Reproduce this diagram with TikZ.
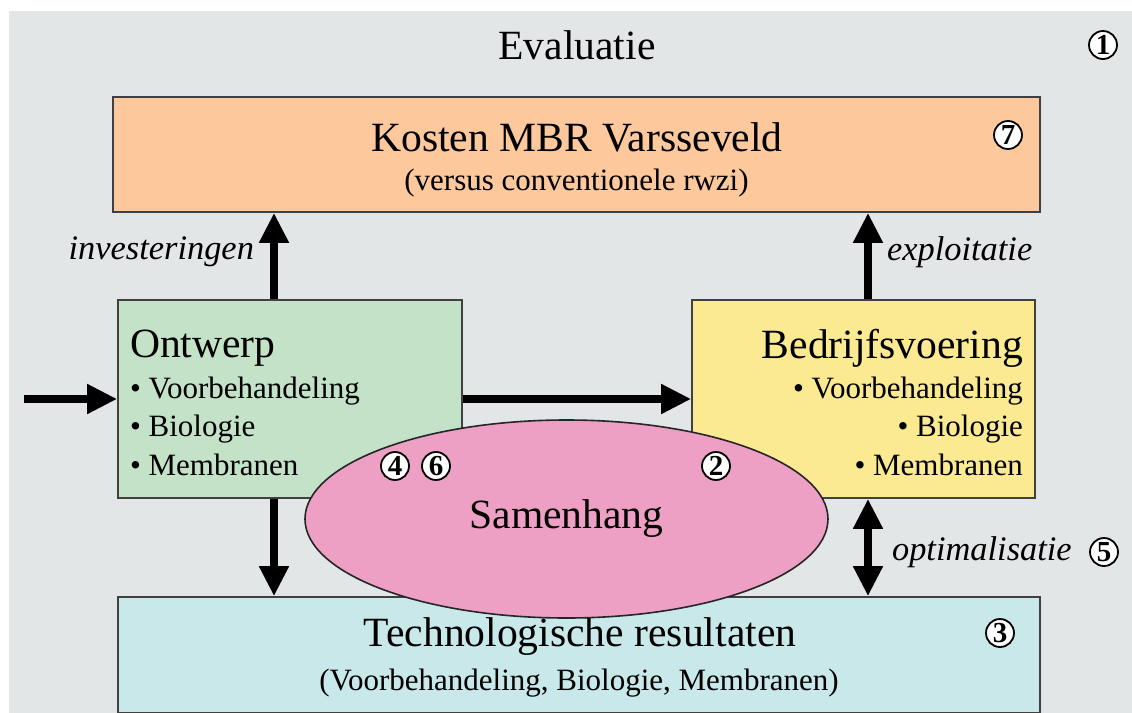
\documentclass[tikz,border=0pt]{standalone}
\usepackage{fontspec}
\setmainfont{Liberation Serif}
\usetikzlibrary{arrows.meta, shapes.geometric, positioning}

\definecolor{bggray}{HTML}{E2E6E6}
\definecolor{kostenfill}{HTML}{FCC89C}
\definecolor{ontwerpfill}{HTML}{C3E2C7}
\definecolor{bedrijffill}{HTML}{FBEA91}
\definecolor{techfill}{HTML}{C8E8EA}
\definecolor{samenfill}{HTML}{EEA0C4}

\begin{document}
\begin{tikzpicture}[
    x=0.5pt, y=-0.5pt,
    box/.style={draw=black!75, line width=0.8pt, inner sep=0pt},
    bigtxt/.style={font=\fontsize{20.8}{24}\selectfont},
    subtxt/.style={font=\fontsize{15.5}{19.3}\selectfont},
    flowlabel/.style={font=\itshape\fontsize{17.2}{20}\selectfont},
    circnum/.style={circle, draw, line width=0.9pt, fill=white, inner sep=0pt, minimum size=14pt, font=\bfseries\fontsize{14.5}{14.5}\selectfont},
    bigarrow/.style={line width=4pt, -{Triangle[length=15pt,width=14pt]}},
    dblarrow/.style={line width=4pt, {Triangle[length=15pt,width=14pt]}-{Triangle[length=15pt,width=14pt]}},
  ]

  % --- Frame ---
  \useasboundingbox (0,0) rectangle (1132,713);
  \fill[bggray] (9,11) rectangle (1132,713);
  \node[bigtxt] (evaluatie) at (577,45) {Evaluatie};

  % --- Boxes ---
  \node[box, fill=kostenfill, minimum width=463.5pt, minimum height=57.5pt] (kosten) at (576.5,154.5) {};
  \node[bigtxt] (kostentitle) at (577,137) {Kosten MBR Varsseveld};
  \node[subtxt] (kostensub) at (576.5,183) {(versus conventionele rwzi)};

  \node[box, fill=ontwerpfill, minimum width=172pt, minimum height=99pt] (ontwerp) at (290,399) {};
  \node[bigtxt, anchor=west] (ontwerptitle) at (123,348) {Ontwerp};
  \node[subtxt, align=left, anchor=west] (ontwerplist) at (123,426) {• Voorbehandeling\\• Biologie\\• Membranen};

  \node[box, fill=bedrijffill, minimum width=171.5pt, minimum height=99pt] (bedrijf) at (863.5,399) {};
  \node[bigtxt, anchor=east] (bedrijftitle) at (1030,348) {Bedrijfsvoering};
  \node[subtxt, align=right, anchor=east] (bedrijflist) at (1030,426) {• Voorbehandeling\\• Biologie\\• Membranen};

  \node[box, fill=techfill, minimum width=461pt, minimum height=58pt] (tech) at (579,655) {};
  \node[bigtxt] (techtitle) at (580,637) {Technologische resultaten};
  \node[subtxt] (techsub) at (579,683) {(Voorbehandeling, Biologie, Membranen)};

  % --- Arrows ---
  \coordinate (inlet) at (24,399);
  \coordinate (leftx) at (274,0);
  \coordinate (rightx) at (868,0);
  \draw[bigarrow] (inlet) -- (ontwerp.west);
  \draw[bigarrow] (ontwerp.east) -- (bedrijf.west);
  \draw[bigarrow] (ontwerp.north -| leftx) -- (kosten.south -| leftx);
  \draw[bigarrow] (bedrijf.north -| rightx) -- (kosten.south -| rightx);
  \draw[bigarrow] (ontwerp.south -| leftx) -- (tech.north -| leftx);
  \draw[dblarrow] (bedrijf.south -| rightx) -- (tech.north -| rightx);

  % --- Labels on arrows ---
  \node[flowlabel, anchor=east] (invlabel) at (261,252) {investeringen};
  \node[flowlabel, anchor=west] (explabel) at (880,252) {exploitatie};
  \node[flowlabel, anchor=west] (optlabel) at (885,552) {optimalisatie};

  % --- Samenhang ---
  \node[ellipse, draw=black!85, line width=0.8pt, fill=samenfill, minimum width=261.5pt, minimum height=99pt, bigtxt] (samenhang) at (566.5,519) {Samenhang};

  % --- Numbers ---
  \node[circnum] (n1) at (1103,45) {1};
  \node[circnum] (n7) at (1008,135) {7};
  \node[circnum] (n4) at (395,466) {4};
  \node[circnum] (n6) at (436,466) {6};
  \node[circnum] (n2) at (716,466) {2};
  \node[circnum] (n3) at (1000,633) {3};
  \node[circnum] (n5) at (1104,552) {5};

\end{tikzpicture}
\end{document}
